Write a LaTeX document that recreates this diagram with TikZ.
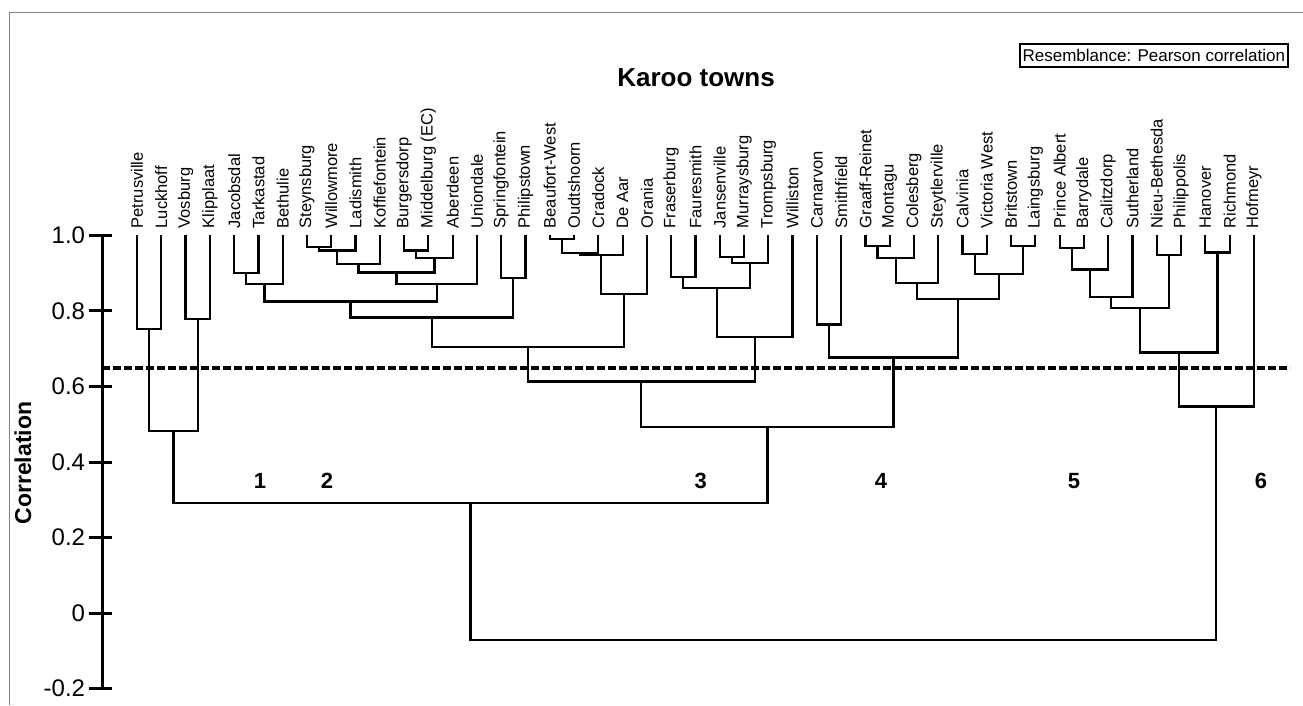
\documentclass[tikz,border=0pt]{standalone}
\usepackage{fontspec}
\setmainfont{Liberation Sans}
\usetikzlibrary{calc}

% one branch of the tree: name, left child, right child, correlation
\newcommand{\clus}[4]{%
  \coordinate (#1) at ($(#2 |- 0,#4)!.5!(#3 |- 0,#4)$);
  \draw[branch] (#2) |- (#1) -| (#3);
}

\begin{document}
\begin{tikzpicture}[x=24.28pt,y=377.5pt,
  branch/.style={line width=2.2pt},
  axisline/.style={line width=3pt},
  townlabel/.style={rotate=90,anchor=west,inner xsep=7pt,inner ysep=0pt,
    font=\fontsize{16.5}{18}\selectfont},
  ticklabel/.style={anchor=east,inner sep=0pt,font=\fontsize{24}{26}\selectfont},
  grouplabel/.style={font=\fontsize{22}{24}\selectfont\bfseries},
  cutline/.style={line width=3.2pt,dash pattern=on 8pt off 3pt}]
\useasboundingbox (-112.72pt,-92pt) rectangle (1190.28pt,613pt);
%
\draw[gray,line width=1pt] (-102.72pt,-92pt) -- (-102.72pt,600pt) -- (1190.28pt,600pt);
%
\node[font=\fontsize{26}{28}\selectfont\bfseries] (title) at (583.3pt,1.417) {Karoo towns};
\node[draw,line width=2pt,anchor=east,inner xsep=3pt,inner ysep=0pt,minimum height=23pt,
  font=\fontsize{17}{19}\selectfont] (resemb) at (1176.3pt,1.478) {Resemblance: Pearson correlation};
%
\draw[axisline] (-10.72pt,-0.2) -- (-10.72pt,1.0);
\foreach \v/\lab [count=\k] in {1.0/1.0,0.8/0.8,0.6/0.6,0.4/0.4,0.2/0.2,0/0,-0.2/-0.2}{
  \draw[axisline] (-23.72pt,\v) -- (-0.72pt,\v);
  \node[ticklabel] (tick\k) at (-27.5pt,\v) {\lab};
}
\node[rotate=90,font=\fontsize{23}{25}\selectfont\bfseries] (ylab) at (-89.7pt,0.397) {Correlation};
%
\foreach \t [count=\i] in {Petrusville,Luckhoff,Vosburg,Klipplaat,Jacobsdal,Tarkastad,Bethulie,
  Steynsburg,Willowmore,Ladismith,Koffiefontein,Burgersdorp,Middelburg (EC),Aberdeen,Uniondale,
  Springfontein,Philipstown,Beaufort-West,Oudtshoorn,Cradock,De Aar,Orania,Fraserburg,Fauresmith,
  Jansenville,Murraysburg,Trompsburg,Williston,Carnarvon,Smithfield,Graaff-Reinet,Montagu,
  Colesberg,Steytlerville,Calvinia,Victoria West,Britstown,Laingsburg,Prince Albert,Barrydale,
  Calitzdorp,Sutherland,Nieu-Bethesda,Philippolis,Hanover,Richmond,Hofmeyr}
  \node[townlabel] (t\i) at (\i,1) {\t};
%
% group 1
\clus{a1}{t1.west}{t2.west}{0.752}
\clus{a2}{t3.west}{t4.west}{0.779}
\clus{g1}{a1}{a2}{0.482}
% group 2
\clus{b1}{t5.west}{t6.west}{0.901}
\clus{b2}{b1}{t7.west}{0.872}
\clus{b3}{t8.west}{t9.west}{0.970}
\clus{b4}{b3}{t10.west}{0.960}
\clus{b5}{b4}{t11.west}{0.924}
\clus{b6}{t12.west}{t13.west}{0.960}
\clus{b7}{b6}{t14.west}{0.940}
\clus{b8}{b5}{b7}{0.902}
\clus{b9}{b8}{t15.west}{0.872}
\clus{b10}{b2}{b9}{0.825}
\clus{b11}{t16.west}{t17.west}{0.888}
\clus{b12}{b10}{b11}{0.783}
\clus{c1}{t18.west}{t19.west}{0.990}
\clus{c2}{c1}{t20.west}{0.953}
\clus{c3}{c2}{t21.west}{0.948}
\clus{c4}{c3}{t22.west}{0.844}
\clus{g2}{b12}{c4}{0.704}
% group 3
\clus{d1}{t23.west}{t24.west}{0.891}
\clus{d2}{t25.west}{t26.west}{0.944}
\clus{d3}{d2}{t27.west}{0.928}
\clus{d4}{d1}{d3}{0.860}
\clus{g3}{d4}{t28.west}{0.732}
\clus{g23}{g2}{g3}{0.613}
% group 4
\clus{e1}{t29.west}{t30.west}{0.764}
\clus{e2}{t31.west}{t32.west}{0.973}
\clus{e3}{e2}{t33.west}{0.940}
\clus{e4}{e3}{t34.west}{0.875}
\clus{e5}{t35.west}{t36.west}{0.951}
\clus{e6}{t37.west}{t38.west}{0.973}
\clus{e7}{e5}{e6}{0.897}
\clus{e8}{e4}{e7}{0.831}
\clus{g4}{e1}{e8}{0.677}
\clus{g234}{g23}{g4}{0.493}
\clus{g1234}{g1}{g234}{0.291}
% groups 5 and 6
\clus{f1}{t39.west}{t40.west}{0.966}
\clus{f2}{f1}{t41.west}{0.910}
\clus{f3}{f2}{t42.west}{0.838}
\clus{f4}{t43.west}{t44.west}{0.948}
\clus{f5}{f3}{f4}{0.807}
\clus{f6}{t45.west}{t46.west}{0.955}
\clus{g5}{f5}{f6}{0.690}
\clus{g56}{g5}{t47.west}{0.547}
\clus{root}{g1234}{g56}{-0.0715}
%
\draw[cutline] (-10.72pt,0.649) -- (1177.28pt,0.649);
%
\node[grouplabel] (n1) at (147.3pt,0.35) {1};
\node[grouplabel] (n2) at (214.3pt,0.35) {2};
\node[grouplabel] (n3) at (587.9pt,0.35) {3};
\node[grouplabel] (n4) at (768.3pt,0.35) {4};
\node[grouplabel] (n5) at (961.3pt,0.35) {5};
\node[grouplabel] (n6) at (1148.3pt,0.35) {6};
%
\end{tikzpicture}
\end{document}
